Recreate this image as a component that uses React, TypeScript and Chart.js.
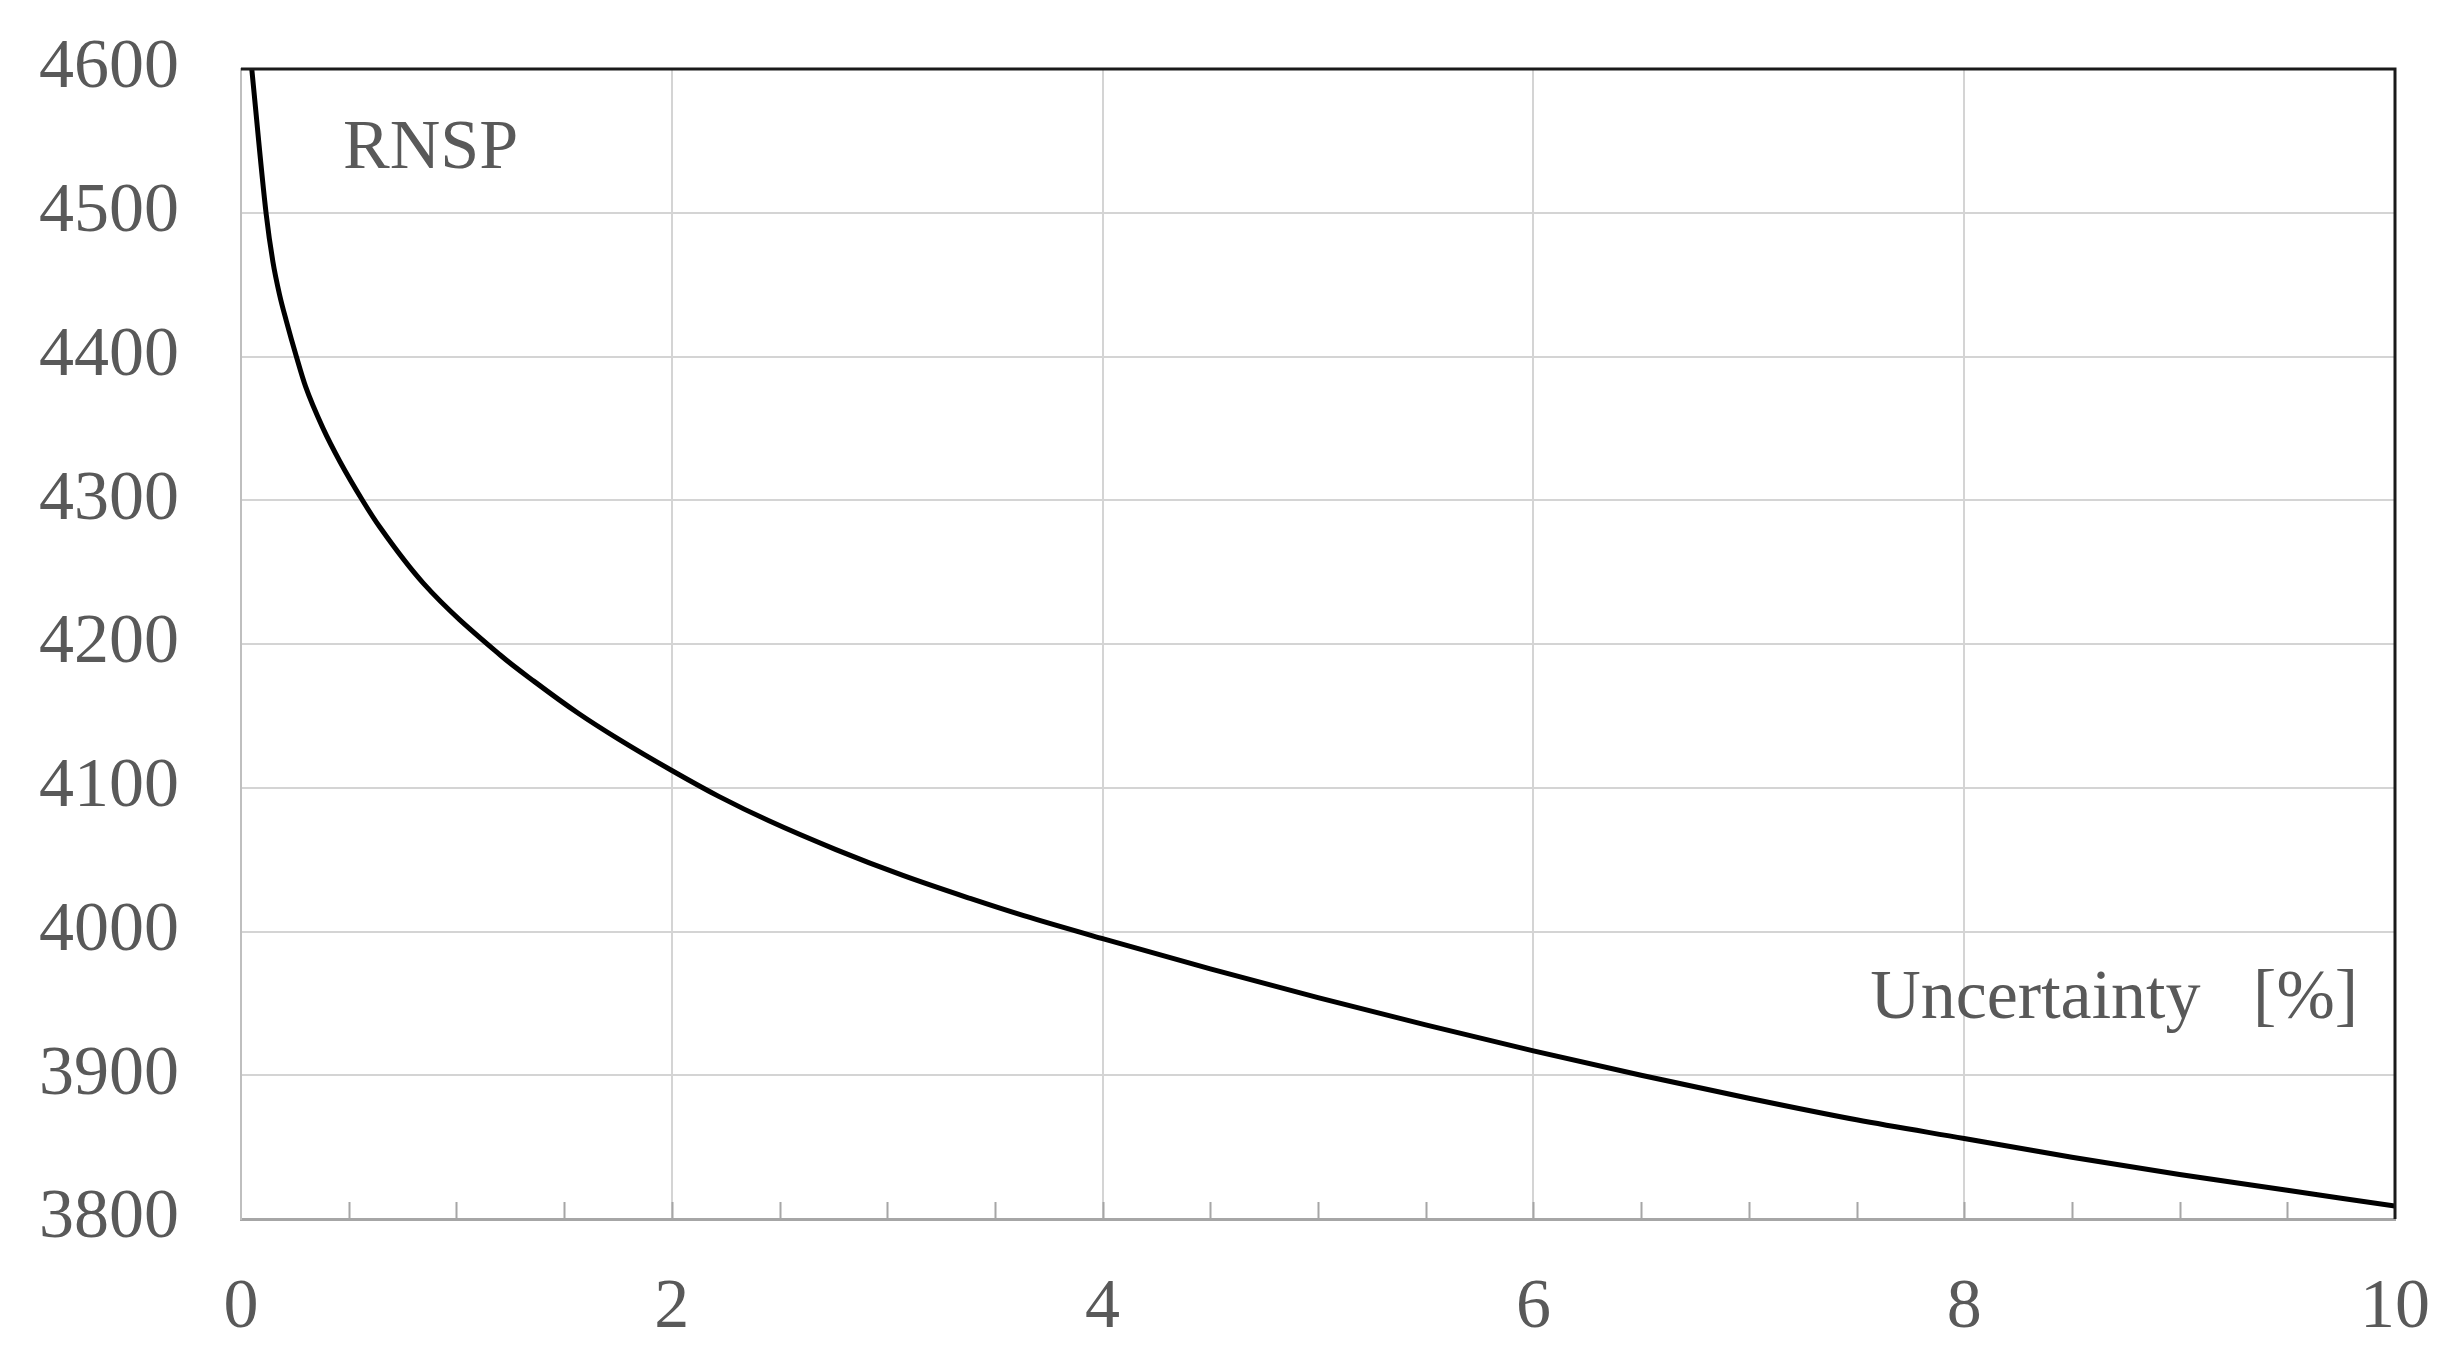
import React, { useEffect, useRef } from "react";
import { Chart, registerables } from "chart.js";

Chart.register(...registerables);

// Uncertainty [%] (x) and RNSP (y)
const uncertainty = [
  0.05, 0.117, 0.148, 0.179, 0.21, 0.257, 0.3, 0.381, 0.459, 0.568, 0.646, 0.848,
  1.206, 1.361, 1.564, 1.751, 2.0, 2.218, 2.451, 2.762, 3.073, 3.385, 3.634,
  4, 4.5, 5, 5.5, 6, 6.5, 7, 7.5, 8, 8.5, 9, 9.5, 10,
];
const rnsp = [
  4600, 4499, 4466, 4443, 4425, 4400, 4379, 4350, 4327, 4299, 4281, 4242,
  4192, 4174, 4152, 4134, 4112, 4094, 4077, 4057, 4039, 4023, 4011,
  3995, 3974, 3954, 3935, 3917, 3900, 3884, 3869, 3856, 3843, 3831, 3820, 3809,
];

const xMajorTicks = [0, 2, 4, 6, 8, 10];
const xMinorTicks = [0.5, 1, 1.5, 2, 2.5, 3, 3.5, 4, 4.5, 5, 5.5, 6, 6.5, 7, 7.5, 8, 8.5, 9, 9.5];
const yTicks = [3800, 3900, 4000, 4100, 4200, 4300, 4400, 4500, 4600];

const seriesLabel = "RNSP";
const xAxisLabel = "Uncertainty   [%]";

const FONT = '"Liberation Serif", "Times New Roman", serif';
const TEXT_COLOR = "#595959";

const framePlugin = {
  id: "frame",
  afterDraw(chart: any) {
    const { ctx, chartArea } = chart;
    const xs = chart.scales.x;
    ctx.save();
    // minor tick marks pointing inward from the x axis
    ctx.strokeStyle = "#a6a6a6";
    ctx.lineWidth = 2;
    ctx.beginPath();
    for (const v of xMinorTicks) {
      const px = Math.round(xs.getPixelForValue(v)) + 0.5;
      ctx.moveTo(px, chartArea.bottom);
      ctx.lineTo(px, chartArea.bottom - 17);
    }
    ctx.stroke();
    // black top and right frame
    ctx.strokeStyle = "#1a1a1a";
    ctx.lineWidth = 3;
    ctx.beginPath();
    ctx.moveTo(chartArea.left, chartArea.top);
    ctx.lineTo(chartArea.right, chartArea.top);
    ctx.lineTo(chartArea.right, chartArea.bottom);
    ctx.stroke();
    // texts
    ctx.fillStyle = TEXT_COLOR;
    ctx.font = `70px ${FONT}`;
    ctx.textBaseline = "alphabetic";
    ctx.textAlign = "left";
    ctx.fillText(seriesLabel, chartArea.left + 102, chartArea.top + 99);
    ctx.textAlign = "right";
    ctx.fillText(xAxisLabel, chartArea.right - 37, chartArea.top + 949);
    ctx.restore();
  },
};

export default function App() {
  const ref = useRef<HTMLCanvasElement | null>(null);

  useEffect(() => {
    document.body.style.margin = "0";
    const canvas = ref.current;
    if (!canvas) return;
    const chart = new Chart(canvas, {
      type: "line",
      data: {
        datasets: [
          {
            label: seriesLabel,
            data: uncertainty.map((x, i) => ({ x, y: rnsp[i] })),
            borderColor: "#000000",
            borderWidth: 5,
            pointRadius: 0,
            fill: false,
            cubicInterpolationMode: "monotone",
          },
        ],
      },
      options: {
        responsive: false,
        animation: false,
        layout: { padding: { top: 69, right: 61, left: 0, bottom: 0 } },
        plugins: { legend: { display: false }, tooltip: { enabled: false }, title: { display: false } },
        scales: {
          x: {
            type: "linear",
            min: 0,
            max: 10,
            afterFit: (s: any) => {
              s.height = 148;
              s.paddingLeft = 0;
              s.paddingRight = 0;
              s.paddingTop = 0;
              s.paddingBottom = 0;
            },
            afterBuildTicks: (s: any) => {
              s.ticks = xMajorTicks.map((v) => ({ value: v }));
            },
            ticks: {
              color: TEXT_COLOR,
              font: { family: FONT, size: 70 },
              padding: 48,
              maxRotation: 0,
              autoSkip: false,
              callback: (v: any) => String(v),
            },
            grid: {
              color: (c: any) => (c.tick && (c.tick.value === 0 || c.tick.value === 10) ? "rgba(0,0,0,0)" : "#d4d4d4"),
              lineWidth: 2,
              drawTicks: false,
            },
            border: { color: "#a6a6a6", width: 3 },
          },
          y: {
            type: "linear",
            min: 3800,
            max: 4600,
            afterFit: (s: any) => {
              s.width = 241;
              s.paddingLeft = 0;
              s.paddingRight = 0;
              s.paddingTop = 0;
              s.paddingBottom = 0;
            },
            afterBuildTicks: (s: any) => {
              s.ticks = yTicks.map((v) => ({ value: v }));
            },
            ticks: {
              color: TEXT_COLOR,
              font: { family: FONT, size: 70 },
              padding: 62,
              autoSkip: false,
              callback: (v: any) => String(v),
            },
            grid: {
              color: (c: any) => (c.tick && (c.tick.value === 3800 || c.tick.value === 4600) ? "rgba(0,0,0,0)" : "#d4d4d4"),
              lineWidth: 2,
              drawTicks: false,
            },
            border: { color: "#bfbfbf", width: 2 },
          },
        },
      },
      plugins: [framePlugin],
    });
    return () => chart.destroy();
  }, []);

  return <canvas ref={ref} width={2456} height={1367} style={{ display: "block", width: 2456, height: 1367 }} />;
}
